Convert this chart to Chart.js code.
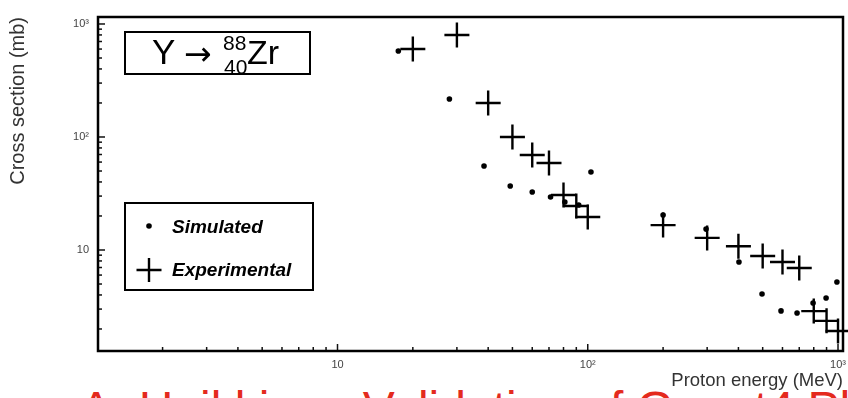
<!DOCTYPE html>
<html>
<head>
<meta charset="utf-8">
<title>Y to 88Zr cross section</title>
<script src="https://cdn.jsdelivr.net/npm/chart.js@4.4.0/dist/chart.umd.min.js"></script>
<style>
  html, body { margin: 0; padding: 0; background: #fff; }
  body { width: 848px; height: 398px; overflow: hidden; position: relative; font-family: 'Liberation Sans', Arial, sans-serif; }
  #slideTitle { position: absolute; left: 80px; top: 385px; font-size: 48px; line-height: 48px; color: #e42a1d; white-space: nowrap; z-index: 1; }
  #wrap { position: absolute; left: 0; top: 0; width: 848px; height: 398px; z-index: 2; }
</style>
</head>
<body>
<div id="slideTitle">A. Heikkinen Validation of Geant4 Physics</div>
<div id="wrap"><canvas id="xsChart"></canvas></div>
<script>
// Experimental points (proton energy in MeV, cross section in mb)
const expEnergy = [20, 30, 40, 50, 60, 70, 80, 90, 100, 200, 300, 400, 500, 600, 700, 800, 900, 1000];
const expSigma  = [601, 800, 200, 100, 69.3, 58.9, 30.7, 24.5, 19.6, 16.6, 12.8, 10.8, 8.85, 7.83, 6.93, 2.88, 2.36, 1.92];

// Simulated points
const simEnergy = [17.5, 28, 38.5, 49, 60, 71, 81, 92, 103, 200, 297, 402, 497, 592, 686, 795, 896, 990];
const simSigma  = [577, 217, 55.4, 36.8, 32.6, 29.4, 26.6, 25.0, 49.0, 20.4, 15.3, 7.83, 4.08, 2.89, 2.77, 3.40, 3.76, 5.21];

// Labelled decades on both axes
const xTickValues = [10, 100, 1000];
const xTickLabels = ['10', '10²', '10³'];
const yTickValues = [10, 100, 1000];
const yTickLabels = ['10', '10²', '10³'];

const FONT = "'Liberation Sans', Arial, sans-serif";

function toPoints(xs, ys) {
    return xs.map((x, i) => ({ x: x, y: ys[i] }));
}

// 'major' for 1*10^n, 'minor' for 2..9*10^n, null otherwise
function tickKind(v) {
    const e = Math.floor(Math.log10(v) + 1e-9);
    const m = v / Math.pow(10, e);
    if (Math.abs(m - Math.round(m)) > 1e-6) return null;
    return Math.round(m) === 1 ? 'major' : 'minor';
}

function labelFor(values, labels, v) {
    const i = values.findIndex(t => Math.abs(t - v) / t < 1e-6);
    return i >= 0 ? labels[i] : '';
}

// ROOT-like frame, inner ticks, reaction box and legend box
const rootFrame = {
    id: 'rootFrame',
    afterDraw(chart) {
        const { ctx, chartArea: a, scales } = chart;
        ctx.save();
        ctx.strokeStyle = '#111';
        ctx.lineWidth = 1.5;
        scales.x.ticks.forEach(t => {
            const kind = tickKind(t.value);
            if (!kind) return;
            const px = scales.x.getPixelForValue(t.value);
            ctx.beginPath();
            ctx.moveTo(px, a.bottom);
            ctx.lineTo(px, a.bottom - (kind === 'major' ? 7 : 4));
            ctx.stroke();
        });
        scales.y.ticks.forEach(t => {
            const kind = tickKind(t.value);
            if (!kind) return;
            const py = scales.y.getPixelForValue(t.value);
            ctx.beginPath();
            ctx.moveTo(a.left, py);
            ctx.lineTo(a.left + (kind === 'major' ? 7 : 4), py);
            ctx.stroke();
        });

        // frame
        ctx.strokeStyle = '#000';
        ctx.lineWidth = 2.5;
        ctx.strokeRect(a.left, a.top, a.right - a.left, a.bottom - a.top);

        // reaction box
        ctx.lineWidth = 2;
        ctx.strokeRect(125, 32, 185, 42);
        ctx.fillStyle = '#000';
        ctx.textBaseline = 'alphabetic';
        ctx.font = '35px ' + FONT;
        ctx.fillText('Y', 152, 64);
        ctx.font = "33px 'DejaVu Sans', sans-serif";
        ctx.fillText('→', 184, 65);
        ctx.font = '21px ' + FONT;
        ctx.fillText('88', 223, 50);
        ctx.fillText('40', 224, 74);
        ctx.font = '34px ' + FONT;
        ctx.fillText('Zr', 247, 64);

        // legend box
        ctx.lineWidth = 2;
        ctx.strokeRect(125, 203, 188, 87);
        ctx.beginPath();
        ctx.arc(149, 226, 2.8, 0, Math.PI * 2);
        ctx.fill();
        ctx.lineWidth = 2.4;
        ctx.beginPath();
        ctx.moveTo(136.5, 270); ctx.lineTo(161.5, 270);
        ctx.moveTo(149, 258); ctx.lineTo(149, 282);
        ctx.stroke();
        ctx.font = 'italic bold 19px ' + FONT;
        ctx.fillText(chart.data.datasets[0].label, 172, 233);
        ctx.fillText(chart.data.datasets[1].label, 172, 276);
        ctx.restore();
    }
};

const ctx = document.getElementById('xsChart').getContext('2d');
const xsChart = new Chart(ctx, {
    type: 'scatter',
    data: {
        datasets: [{
            label: 'Simulated',
            data: toPoints(simEnergy, simSigma),
            pointStyle: 'circle',
            pointRadius: 2.8,
            pointBackgroundColor: '#000',
            pointBorderWidth: 0,
            clip: false
        }, {
            label: 'Experimental',
            data: toPoints(expEnergy, expSigma),
            pointStyle: 'cross',
            pointRadius: 12.5,
            pointBorderColor: '#000',
            pointBorderWidth: 2.4,
            clip: false
        }]
    },
    options: {
        responsive: true,
        maintainAspectRatio: false,
        animation: false,
        layout: { autoPadding: false, padding: { top: 17, right: 5, left: 0, bottom: 0 } },
        plugins: {
            legend: { display: false },
            tooltip: { enabled: false }
        },
        scales: {
            x: {
                type: 'logarithmic',
                min: 1.104,
                max: 1047,
                grid: { display: false, drawTicks: false },
                border: { display: false },
                ticks: {
                    autoSkip: false,
                    maxRotation: 0,
                    padding: 7,
                    color: '#444',
                    font: { family: FONT, size: 11 },
                    callback: v => labelFor(xTickValues, xTickLabels, v)
                },
                title: {
                    display: true,
                    text: 'Proton energy (MeV)',
                    align: 'end',
                    color: '#333',
                    font: { family: FONT, size: 18.5 },
                    padding: { top: 0, bottom: 6 }
                },
                afterFit: s => { s.height = 47; s.paddingLeft = 0; s.paddingRight = 0; }
            },
            y: {
                type: 'logarithmic',
                min: 1.277,
                max: 1153,
                grid: { display: false, drawTicks: false },
                border: { display: false },
                ticks: {
                    autoSkip: false,
                    padding: 9,
                    color: '#444',
                    font: { family: FONT, size: 11 },
                    callback: v => labelFor(yTickValues, yTickLabels, v)
                },
                title: {
                    display: true,
                    text: 'Cross section (mb)',
                    align: 'end',
                    color: '#333',
                    font: { family: FONT, size: 20 },
                    padding: { top: 6, bottom: 0 }
                },
                afterFit: s => { s.width = 98; s.paddingTop = 0; s.paddingBottom = 0; }
            }
        }
    },
    plugins: [rootFrame]
});
</script>
</body>
</html>
